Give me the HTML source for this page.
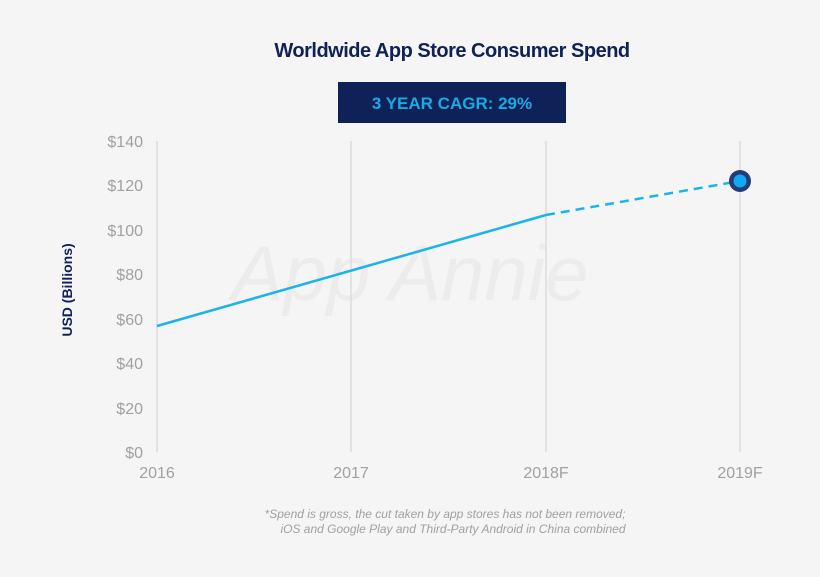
<!DOCTYPE html>
<html><head><meta charset="utf-8"><style>
body{margin:0;background:#f5f5f5;}
svg{display:block;font-family:"Liberation Sans",sans-serif;}
</style></head><body>
<svg width="820" height="577" viewBox="0 0 820 577">
<rect width="820" height="577" fill="#f5f5f5"/>
<text x="452" y="57" text-anchor="middle" font-size="20" font-weight="bold" fill="#0f2257" letter-spacing="-0.5">Worldwide App Store Consumer Spend</text>
<rect x="338" y="82" width="228" height="41" fill="#0f2257"/>
<text x="452" y="109" text-anchor="middle" font-size="17" font-weight="bold" fill="#1aa8e6">3 YEAR CAGR: 29%</text>
<text x="410" y="300" text-anchor="middle" font-size="78" font-style="italic" fill="#ececec">App Annie</text>
<g stroke="#dcdcdc" stroke-width="1.5">
<line x1="157" y1="141" x2="157" y2="452"/><line x1="351" y1="141" x2="351" y2="452"/>
<line x1="546" y1="141" x2="546" y2="452"/><line x1="740" y1="141" x2="740" y2="452"/>
</g>
<g font-size="16" fill="#a0a0a0" text-anchor="end">
<text x="143" y="147">$140</text><text x="143" y="191">$120</text><text x="143" y="236">$100</text>
<text x="143" y="280">$80</text><text x="143" y="325">$60</text><text x="143" y="369">$40</text>
<text x="143" y="414">$20</text><text x="143" y="458">$0</text>
</g>
<g font-size="16" fill="#a0a0a0" text-anchor="middle">
<text x="157" y="478">2016</text><text x="351" y="478">2017</text>
<text x="546" y="478">2018F</text><text x="740" y="478">2019F</text>
</g>
<text transform="translate(72,290) rotate(-90)" text-anchor="middle" font-size="14" font-weight="bold" fill="#0f2257">USD (Billions)</text>
<polyline points="157,326 546,215" fill="none" stroke="#1ab3ec" stroke-width="2.5"/>
<line x1="546" y1="215" x2="740" y2="181" stroke="#1ab3ec" stroke-width="2.5" stroke-dasharray="9,6"/>
<circle cx="740" cy="181" r="11" fill="#243b7a"/>
<circle cx="740" cy="181" r="6.5" fill="#10aaf0"/>
<g font-size="12" font-style="italic" fill="#a0a0a0" text-anchor="middle">
<text x="445" y="518">*Spend is gross, the cut taken by app stores has not been removed;</text>
<text x="453" y="533">iOS and Google Play and Third-Party Android in China combined</text>
</g>
</svg>
</body></html>
